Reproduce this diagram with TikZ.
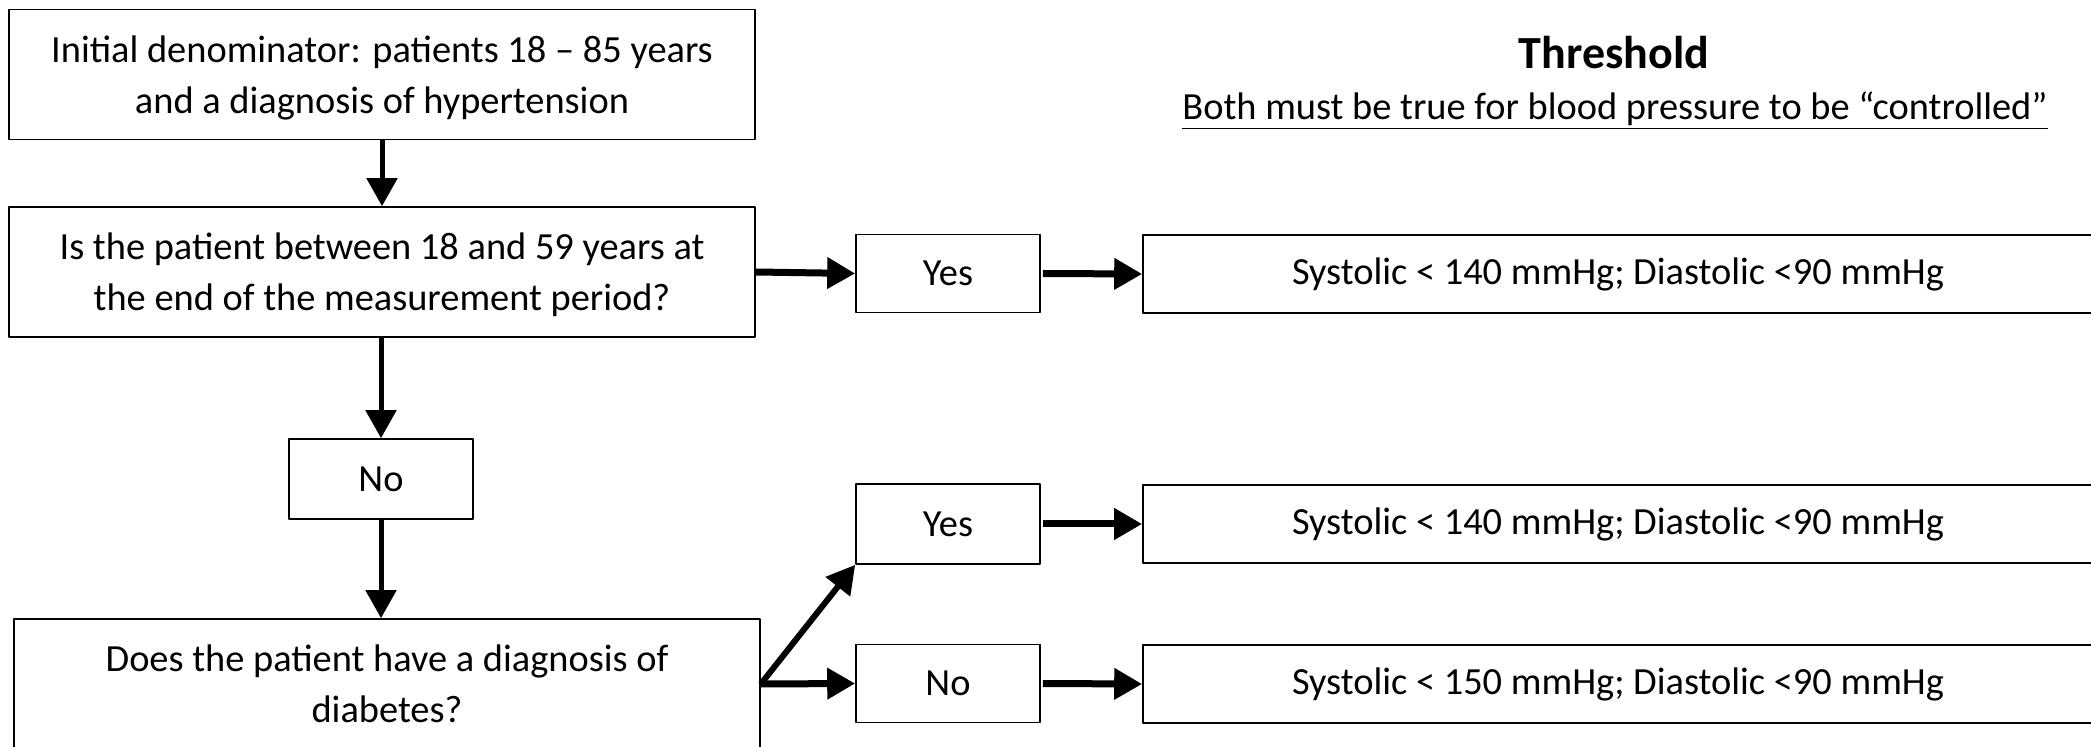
\documentclass[tikz,border=0pt]{standalone}
\usepackage{fontspec}
\setmainfont{Carlito}
\usetikzlibrary{arrows.meta}

\begin{document}
\begin{tikzpicture}[x=0.5pt, y=-0.5pt, line join=round,
  box/.style={draw, line width=0.8pt, align=center, inner sep=0pt,
    font=\fontsize{19.2}{25.5}\selectfont},
  wide/.style={box, minimum width=373pt, minimum height=65pt, text depth=0pt},
  small/.style={box, minimum width=92pt, minimum height=39pt},
  limit/.style={box, minimum width=475pt, minimum height=39pt},
  arr/.style={-{Triangle[length=14pt, width=15pt]}, line width=2.5pt},
  harr/.style={arr, line width=3.5pt}]
\useasboundingbox (0,0) rectangle (2091,747);
% left column
\node[wide] (init) at (382,74.5) {Initial denominator: patients 18 -- 85 years\\and a diagnosis of hypertension};
\node[wide] (age) at (382,272) {Is the patient between 18 and 59 years at\\the end of the measurement period?};
\node[small, minimum height=40pt] (no1) at (381,479) {No};
\node[wide] (diab) at (387,684) {Does the patient have a diagnosis of\\diabetes?};
% answers
\node[small] (yes1) at (948,273.5) {Yes};
\node[small, minimum height=40pt] (yes2) at (948,524) {Yes};
\node[small] (no2) at (948,683.5) {No};
% thresholds
\node[limit] (res1) at (1618,274) {Systolic < 140 mmHg; Diastolic <90 mmHg};
\node[limit] (res2) at (1618,524) {Systolic < 140 mmHg; Diastolic <90 mmHg};
\node[limit] (res3) at (1618,684) {Systolic < 150 mmHg; Diastolic <90 mmHg};
\node[font=\fontsize{23}{27}\selectfont\bfseries] (title) at (1614,53) {Threshold};
\node[font=\fontsize{19.2}{23}\selectfont] (sub) at (1615,111) {\underline{Both must be true for blood pressure to be “controlled”}};
% arrows
\draw[arr] (init.south) -- (age.north);
\draw[arr] (age.south -| no1) -- (no1.north);
\draw[arr] (no1.south) -- (diab.north -| no1);
\draw[harr] (age.east) -- (yes1.west);
\draw[arr, line width=3pt] (diab.east) -- (yes2.south west);
\draw[harr] (diab.east) -- (no2.west);
\draw[harr] ([xshift=1pt]yes1.east) -- (res1.west);
\draw[harr] ([xshift=1pt]yes2.east) -- (res2.west);
\draw[harr] ([xshift=1pt]no2.east) -- (res3.west);
\end{tikzpicture}
\end{document}
